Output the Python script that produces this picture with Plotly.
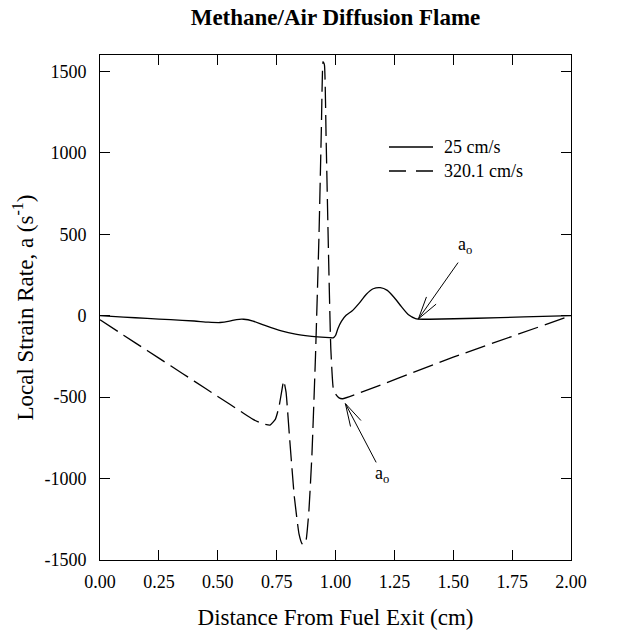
import math
import plotly.graph_objects as go

# Local strain rate along the centreline, two fuel-exit velocities
x_slow = [0.00, 0.10, 0.20, 0.30, 0.40, 0.46, 0.51, 0.55, 0.58, 0.61, 0.65, 0.70, 0.77,
          0.83, 0.89, 0.94, 0.975, 0.99, 1.000, 1.010, 1.025, 1.045, 1.07, 1.10, 1.13,
          1.16, 1.19, 1.22, 1.25, 1.28, 1.31, 1.34, 1.37, 1.40, 1.60, 1.80, 2.00]
a_slow = [0, -9, -17, -25, -33, -40, -42, -34, -24, -22, -33, -60, -94,
          -114, -126, -132, -135, -136, -122, -80, -35, 2, 28, 75, 130,
          165, 172, 155, 110, 55, 5, -18, -22, -22, -16, -8, 0]

x_fast = [0.00, 0.10, 0.20, 0.30, 0.40, 0.50, 0.60, 0.65, 0.69, 0.722, 0.745, 0.760,
          0.772, 0.780, 0.790, 0.805, 0.825, 0.845, 0.858, 0.866, 0.875, 0.887, 0.900,
          0.915, 0.930, 0.940, 0.947, 0.953, 0.960, 0.970, 0.980, 0.990, 1.000,
          1.015, 1.030, 1.50, 2.00]
a_fast = [-25, -120, -214, -308, -402, -496, -590, -637, -664, -672, -635, -560,
          -460, -400, -470, -750, -1110, -1340, -1400, -1405, -1380, -1200, -850,
          -250, 500, 1150, 1560, 1540, 1100, 400, -200, -440, -480,
          -505, -510, -255, 0]

series_names = ["25 cm/s", "320.1 cm/s"]
x_ticks = [0.00, 0.25, 0.50, 0.75, 1.00, 1.25, 1.50, 1.75, 2.00]
y_ticks = [-1500, -1000, -500, 0, 500, 1000, 1500]
y_tick_text = ["-1500", "-1000", "-500", "0", "500", "1000", "1500"]

# arrow callouts: (tip x, tip y, tail x, tail y, label x, label y)
callouts = [
    (1.352, -20, 1.525, 335, 1.548, 430),
    (1.042, -540, 1.176, -910, 1.196, -975),
]

X_RANGE = [0, 2]
Y_RANGE = [-1500, 1600]
W, H = 624, 634
ML, MR, MT, MB = 100, 53, 55, 74
PW, PH = W - ML - MR, H - MT - MB
PX_X = PW / (X_RANGE[1] - X_RANGE[0])
PX_Y = PH / (Y_RANGE[1] - Y_RANGE[0])

FONT = "Liberation Serif, Times New Roman, serif"
LINE_W = 1.3
DASH = "21px,7px"

fig = go.Figure()
fig.add_trace(go.Scatter(x=x_slow, y=a_slow, mode="lines", name=series_names[0],
                         showlegend=False,
                         line=dict(color="black", width=LINE_W, shape="spline", smoothing=0.6)))
fig.add_trace(go.Scatter(x=x_fast, y=a_fast, mode="lines", name=series_names[1],
                         showlegend=False,
                         line=dict(color="black", width=LINE_W, dash=DASH,
                                   shape="spline", smoothing=0.4)))

annotations = []
shapes = []
for tx, ty, sx, sy, lx, ly in callouts:
    # shaft
    annotations.append(dict(x=tx, y=ty, ax=sx, ay=sy, axref="x", ayref="y",
                            xref="x", yref="y", text="", showarrow=True,
                            arrowhead=0, arrowwidth=1, arrowcolor="black"))
    # open arrowhead: two barbs drawn back from the tip
    dx = (sx - tx) * PX_X
    dy = -(sy - ty) * PX_Y
    ang = math.atan2(dy, dx)
    for da in (math.radians(15), -math.radians(15)):
        bx = 25 * math.cos(ang + da)
        by = 25 * math.sin(ang + da)
        annotations.append(dict(x=tx, y=ty, ax=bx, ay=by, xref="x", yref="y",
                                text="", showarrow=True, arrowhead=0,
                                arrowwidth=1, arrowcolor="black"))
    annotations.append(dict(x=lx, y=ly, xref="x", yref="y", showarrow=False,
                            text="a<sub>o</sub>",
                            font=dict(family=FONT, size=18, color="black")))

# key: line sample + label for each series (paper coordinates)
key_rows = [(1 - 147 / H, None), (1 - 171 / H, "17px,10px")]
key_x0, key_x1, key_tx = (389 - ML) / PW, (433 - ML) / PW, (442 - ML) / PW
for name, (ky, dash) in zip(series_names, key_rows):
    ky_plot = (ky * H - MB) / PH
    shapes.append(dict(type="line", xref="paper", yref="paper",
                       x0=key_x0, x1=key_x1, y0=ky_plot, y1=ky_plot,
                       line=dict(color="black", width=LINE_W, dash=dash or "solid")))
    annotations.append(dict(x=key_tx, y=ky_plot, xref="paper", yref="paper",
                            xanchor="left", yanchor="middle", showarrow=False,
                            text=name, font=dict(family=FONT, size=18, color="black")))

axis_common = dict(showline=True, linecolor="black", linewidth=1, mirror="ticks",
                   ticks="inside", ticklen=10, tickcolor="black", tickwidth=1,
                   showgrid=False, zeroline=False, automargin=False,
                   tickfont=dict(family=FONT, size=18, color="black"))

fig.update_layout(
    width=W, height=H,
    margin=dict(l=ML, r=MR, t=MT, b=MB, autoexpand=False),
    paper_bgcolor="white", plot_bgcolor="white",
    showlegend=False,
    title=dict(text="<b>Methane/Air Diffusion Flame</b>", x=(ML + PW / 2) / W,
               xanchor="center", y=1 - 17 / H, yanchor="middle",
               font=dict(family=FONT, size=23, color="black")),
    xaxis=dict(range=X_RANGE, tickvals=x_ticks, tickformat=".2f",
               ticklabelstandoff=5,
               title=dict(text="Distance From Fuel Exit (cm)", standoff=18,
                          font=dict(family=FONT, size=23, color="black")),
               **axis_common),
    yaxis=dict(range=Y_RANGE, tickvals=y_ticks, ticktext=y_tick_text,
               ticklabelstandoff=9,
               title=dict(text="Local Strain Rate, a (s<sup>-1</sup>)", standoff=4,
                          font=dict(family=FONT, size=23, color="black")),
               **axis_common),
    annotations=annotations,
    shapes=shapes,
)

fig.write_html("out.html")
